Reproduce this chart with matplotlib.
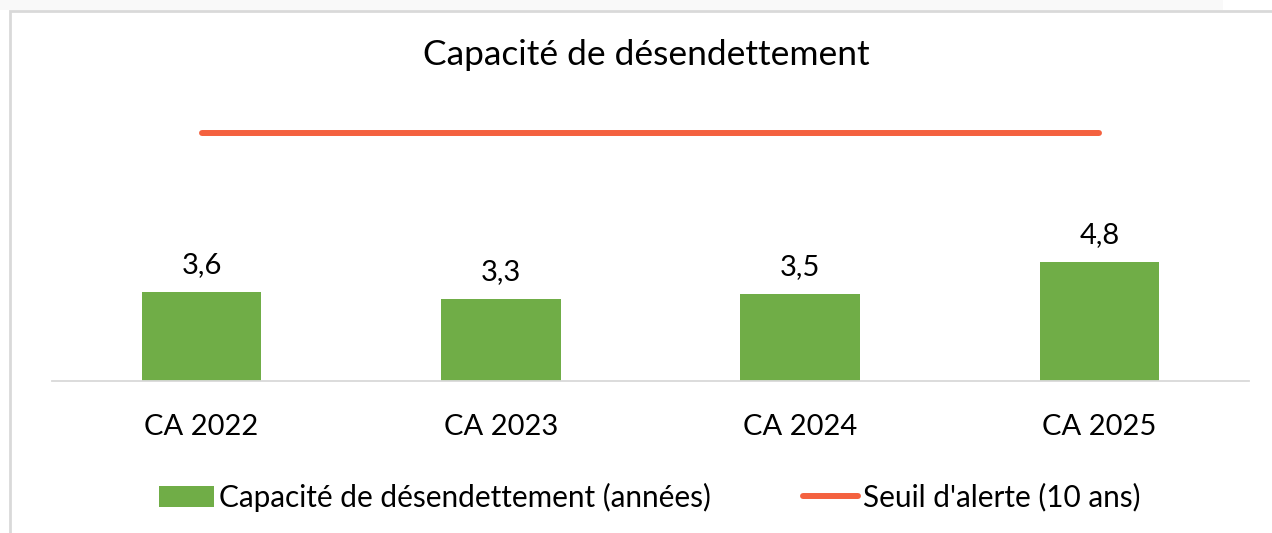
import matplotlib.pyplot as plt
from matplotlib.patches import Rectangle

plt.rcParams['font.family'] = ['Lato', 'DejaVu Sans']

categories = ['CA 2022', 'CA 2023', 'CA 2024', 'CA 2025']
capacite = [3.6, 3.3, 3.5, 4.8]
seuil = [10, 10, 10, 10]
labels = ['3,6', '3,3', '3,5', '4,8']

fig = plt.figure(figsize=(12.72, 5.33), dpi=100)
ax = fig.add_axes([52 / 1272, 152 / 533, 1197 / 1272, 297.6 / 533])

x = range(len(categories))
bars = ax.bar(x, capacite, width=0.4, color='#70AD47', label='Capacité de désendettement (années)')
line, = ax.plot(x, seuil, color='#F4613F', linewidth=4.3, solid_capstyle='round',
                label="Seuil d'alerte (10 ans)")

for b, lab in zip(bars, labels):
    ax.annotate(lab, (b.get_x() + b.get_width() / 2, b.get_height()),
                xytext=(0, 10), textcoords='offset points', ha='center', va='bottom',
                fontsize=21, color='#000000')

ax.set_xlim(-0.5, 3.5)
ax.set_ylim(0, 12)
ax.set_xticks(list(x))
ax.set_xticklabels(categories, fontsize=21)
ax.tick_params(axis='x', length=0, pad=24)
ax.set_yticks([])
for s in ['top', 'right', 'left']:
    ax.spines[s].set_visible(False)
ax.spines['bottom'].set_color('#d9d9d9')
ax.spines['bottom'].set_linewidth(1.3)

fig.text(0.508, 1 - 55 / 533, 'Capacité de désendettement', ha='center', va='center', fontsize=25.5)

fig.legend([bars, line], ['Capacité de désendettement (années)', "Seuil d'alerte (10 ans)"],
           loc='center', bbox_to_anchor=(0.511, 36 / 533), ncol=2, frameon=False,
           fontsize=21.4, handlelength=1.85, handletextpad=0.17, columnspacing=3.1)

# frame of the chart area
fig.patches.append(Rectangle((0, 1 - 10 / 533), 1223 / 1272, 10 / 533, transform=fig.transFigure,
                             facecolor='#f9f9f9', edgecolor='none', zorder=-2))
fig.patches.append(Rectangle((10 / 1272, -0.1), 1.2, 1 - 11 / 533 + 0.1, transform=fig.transFigure,
                             facecolor='white', edgecolor='#d9d9d9', linewidth=2, zorder=-1))

fig.savefig('out.png', dpi=100)
